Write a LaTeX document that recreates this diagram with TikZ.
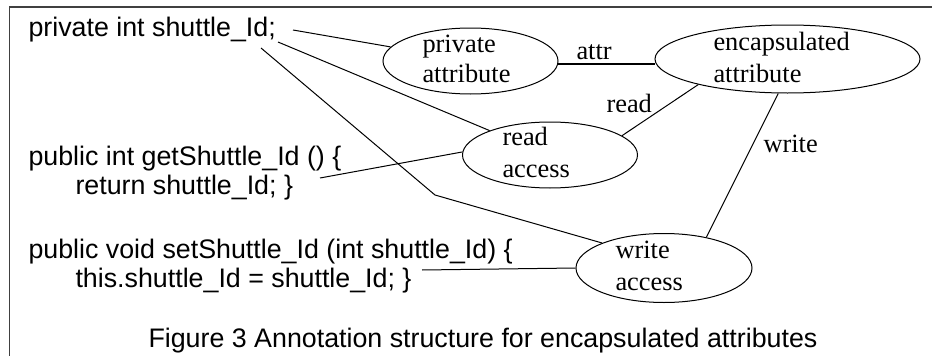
\documentclass[tikz,border=0pt]{standalone}
\usepackage{fontspec}
\setmainfont{Liberation Serif}
\newfontfamily\arialf{Liberation Sans}
\usetikzlibrary{shapes.geometric}
\begin{document}
\begin{tikzpicture}[x=1pt,y=-1pt,line width=1pt,
  ell/.style={draw,ellipse,inner sep=0pt},
  code/.style={font=\arialf\fontsize{26.8}{30}\selectfont,anchor=base west,inner sep=0pt},
  etxt/.style={font=\fontsize{26.4}{30}\selectfont,anchor=base west,inner sep=0pt},
  conn/.style={draw,line width=1pt},
  thickconn/.style={draw,line width=2pt},
  frame/.style={draw,line width=1.3pt,black!75}]
\useasboundingbox (0,0) rectangle (932,356);
\draw[frame] (9.5,356) -- (9.5,7) -- (932,7);

% code text
\node[code] (t1) at (28,36) {private int shuttle\_Id;};
\node[code] (t2) at (28,165) {public int getShuttle\_Id () \{};
\node[code] (t3) at (75,194) {return shuttle\_Id; \}};
\node[code] (t4) at (28,258) {public void setShuttle\_Id (int shuttle\_Id) \{};
\node[code] (t5) at (75,287) {this.shuttle\_Id = shuttle\_Id; \}};
\node[code] (cap) at (148,347) {Figure 3 Annotation structure for encapsulated attributes};

% ellipses
\node[ell,minimum width=175,minimum height=66] (pa) at (470.5,61) {};
\node[ell,minimum width=265,minimum height=68] (ea) at (787.5,59) {};
\node[ell,minimum width=175,minimum height=66] (ra) at (550,155) {};
\node[ell,minimum width=176,minimum height=69] (wa) at (664,268) {};

\node[etxt] (pa1) at (422,52) {private};
\node[etxt] (pa2) at (422,82) {attribute};
\node[etxt] (ea1) at (713,50) {encapsulated};
\node[etxt] (ea2) at (713,82) {attribute};
\node[etxt] (ra1) at (502,145) {read};
\node[etxt] (ra2) at (502,177) {access};
\node[etxt] (wa1) at (615,258) {write};
\node[etxt] (wa2) at (615,290) {access};

% labels
\node[etxt] (lattr) at (576,59) {attr};
\node[etxt] (lread) at (606,112) {read};
\node[etxt] (lwrite) at (763,152) {write};

% connectors
\coordinate (c1) at (293,30);
\coordinate (c2) at (278,42);
\coordinate (c3) at (261,48);
\coordinate (b3) at (435,195);
\coordinate (c4) at (320,178);
\coordinate (c5) at (422,270);

\draw[conn] (c1) -- (pa.170);
\draw[conn] (c2) -- (ra.158);
\draw[conn] (c3) -- (b3) -- (wa.158);
\draw[conn] (c4) -- (ra.178);
\draw[conn] (c5) -- (wa.180);
\draw[thickconn] (pa.358) -- (pa.358 -| ea.west);
\draw[conn] (ra.15) -- (ea.196);
\draw[conn] (ea.255) -- (wa.36);
\end{tikzpicture}
\end{document}
